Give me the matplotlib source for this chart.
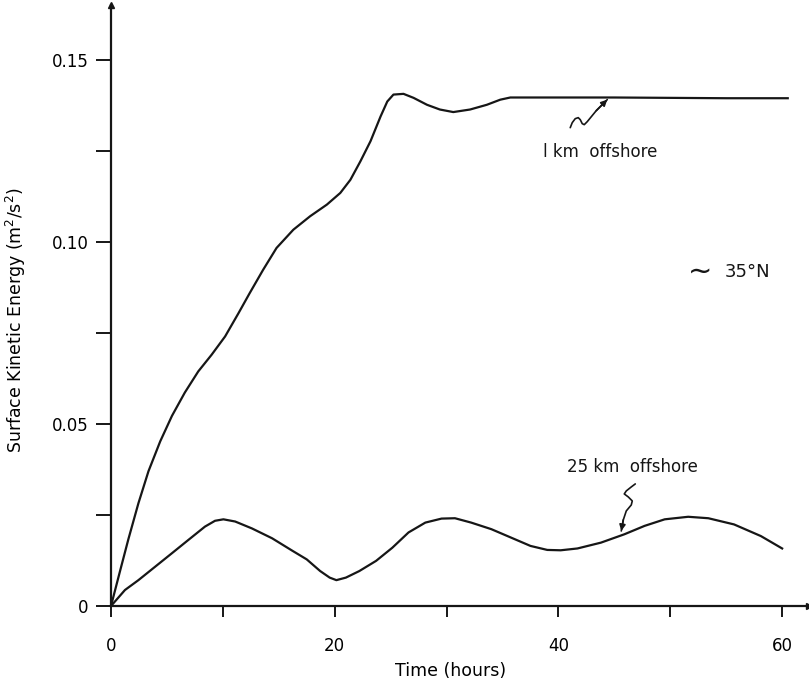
import numpy as np
import matplotlib
matplotlib.use("Agg")
import matplotlib.pyplot as plt

# time (hours) / surface kinetic energy (m^2/s^2)
t_1km = [0, 0.8, 1.55, 2.45, 3.35, 4.4, 5.45, 6.6, 7.8, 9.0, 10.2, 11.4,
         12.4, 13.6, 14.8, 16.3, 17.8, 19.3, 20.5, 21.4, 22.3, 23.2, 24.1,
         24.7, 25.25, 26.15, 27.05, 28.25, 29.4, 30.6, 32.1, 33.6, 34.8,
         35.7, 40.0, 45.0, 50.0, 55.0, 60.5]
ke_1km = [0, 0.0095, 0.0183, 0.0282, 0.0370, 0.0452, 0.0522, 0.0586, 0.0644,
          0.0690, 0.0740, 0.0804, 0.0859, 0.0923, 0.0983, 0.1033, 0.1070,
          0.1102, 0.1134, 0.1170, 0.1221, 0.1276, 0.1344, 0.1385, 0.1404,
          0.1406, 0.1395, 0.1376, 0.1363, 0.1356, 0.1363, 0.1376, 0.1390,
          0.1396, 0.1396, 0.1396, 0.1395, 0.1394, 0.1394]

t_25km = [0, 1.25, 2.45, 3.95, 5.45, 6.9, 8.4, 9.3, 10.05, 11.1, 12.6, 14.4,
          16.2, 17.5, 18.7, 19.55, 20.15, 21.0, 22.2, 23.7, 25.15, 26.6,
          28.1, 29.55, 30.75, 32.2, 34.0, 35.75, 37.5, 39.0, 40.2, 41.7,
          43.8, 45.9, 47.7, 49.5, 51.6, 53.4, 55.7, 58.1, 60.0]
ke_25km = [0, 0.0044, 0.0071, 0.0108, 0.0145, 0.0181, 0.0218, 0.0234, 0.0238,
           0.0232, 0.0213, 0.0186, 0.0152, 0.0128, 0.0096, 0.0078, 0.0071,
           0.0078, 0.0096, 0.0124, 0.0160, 0.0202, 0.0229, 0.0240, 0.0241,
           0.0229, 0.0211, 0.0188, 0.0165, 0.0154, 0.0153, 0.0158, 0.0174,
           0.0197, 0.0220, 0.0238, 0.0245, 0.0241, 0.0224, 0.0192, 0.0158]

x_major = [0, 20, 40, 60]
x_minor = [10, 30, 50]
y_major = [0, 0.05, 0.10, 0.15]
y_major_labels = ["0", "0.05", "0.10", "0.15"]
y_minor = [0.025, 0.075, 0.125]

INK = "#161616"
plt.rcParams["font.family"] = ["DejaVu Sans"]

fig = plt.figure(figsize=(8.09, 6.81), dpi=100)
ax = fig.add_axes([0.1372, 0.1101, 0.8628, 0.8826])
ax.set_xlim(0, 62.4)
ax.set_ylim(0, 0.165)

ax.plot(t_1km, ke_1km, color=INK, lw=1.6, solid_joinstyle="round")
ax.plot(t_25km, ke_25km, color=INK, lw=1.6, solid_joinstyle="round")

for s in ["top", "right"]:
    ax.spines[s].set_visible(False)
for s in ["left", "bottom"]:
    ax.spines[s].set_linewidth(1.6)
    ax.spines[s].set_color(INK)
ax.plot(0, 1, "^", color=INK, ms=5, transform=ax.transAxes, clip_on=False)
ax.plot(1, 0, ">", color=INK, ms=5, transform=ax.transAxes, clip_on=False)

ax.set_xticks(x_major)
ax.set_xticks(x_minor, minor=True)
ax.set_yticks(y_major)
ax.set_yticklabels(y_major_labels)
ax.set_yticks(y_minor, minor=True)
ax.tick_params(axis="x", which="both", direction="out", length=8, width=1.4,
               color=INK, pad=14, labelsize=12)
ax.tick_params(axis="y", which="both", direction="out", length=11, width=1.4,
               color=INK, pad=5, labelsize=12)

ax.set_xlabel("Time (hours)", fontsize=12.5)
ax.xaxis.set_label_coords(0.486, -0.093)
ax.set_ylabel("Surface Kinetic Energy (m$^2$/s$^2$)", fontsize=12.5)
ax.yaxis.set_label_coords(-0.119, 0.476)


# annotation helpers work in image pixels (origin top-left) -> data
def px(p):
    x, y = p
    return (x - 111) / 11.18, (606 - y) / 3640.0


def squiggle(points):
    xs, ys = zip(*[px(p) for p in points])
    ax.plot(xs, ys, color=INK, lw=1.2, solid_capstyle="round",
            solid_joinstyle="round")
    ax.annotate("", xy=(xs[-1], ys[-1]), xytext=(xs[-2], ys[-2]),
                arrowprops=dict(arrowstyle="-|>", color=INK, lw=1.2,
                                mutation_scale=9, shrinkA=0, shrinkB=0))


squiggle([(570, 128), (572, 123), (575, 119), (578, 118), (580, 120),
          (582, 124), (584, 125), (587, 122), (596, 111), (607, 100)])
squiggle([(635, 484), (631, 487), (626, 491), (624, 494), (628, 497),
          (632, 501), (631, 505), (626, 511), (623, 520), (621, 531)])

ax.text(*px((543, 152)), "l km  offshore", fontsize=12, color=INK,
        ha="left", va="center")
ax.text(*px((567, 467)), "25 km  offshore", fontsize=12, color=INK,
        ha="left", va="center")
ax.text(*px((688, 272)), "\u223c", fontsize=21, color=INK,
        ha="left", va="center")
ax.text(*px((724, 272)), "35\u00b0N", fontsize=13, color=INK,
        ha="left", va="center")

fig.savefig("out.png", dpi=100)
